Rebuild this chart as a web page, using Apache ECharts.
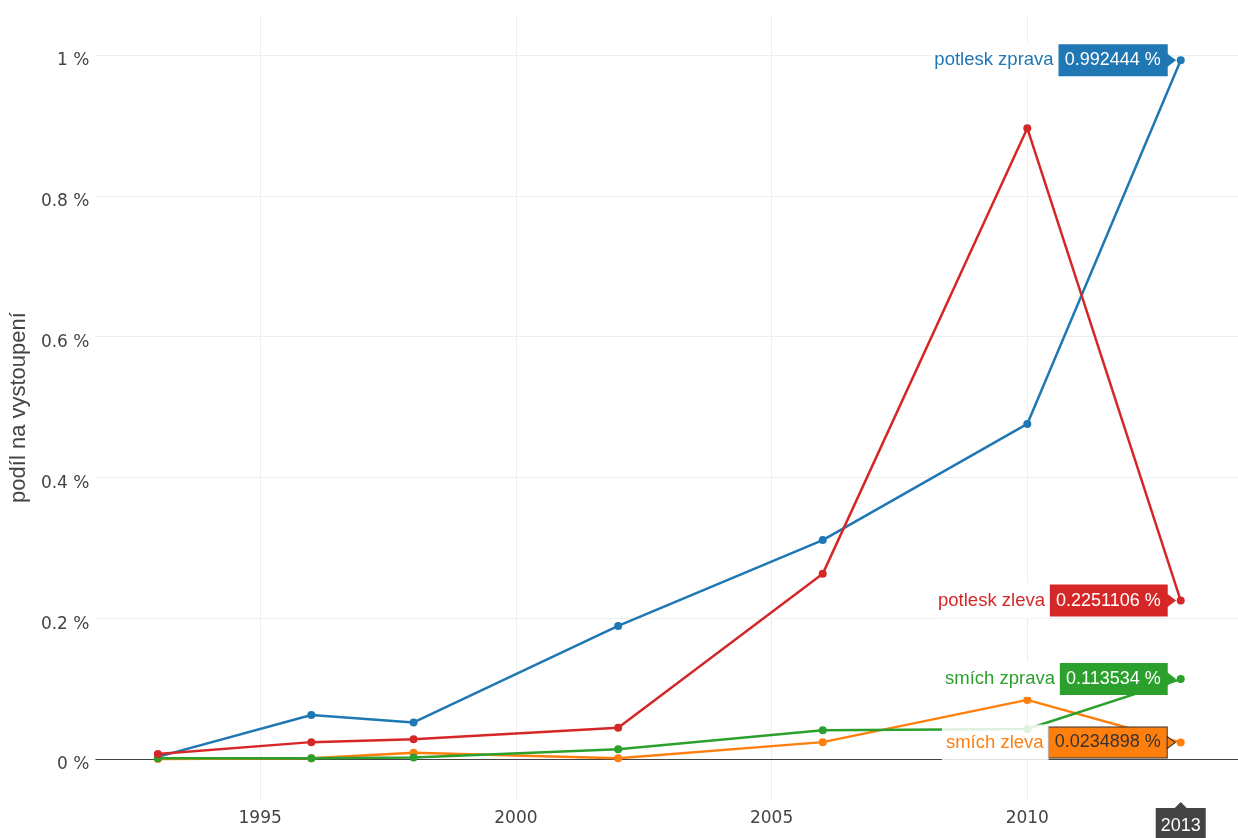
<!DOCTYPE html>
<html><head><meta charset="utf-8">
<script src="https://cdn.jsdelivr.net/npm/echarts@6/dist/echarts.min.js"></script>
<style>html,body{margin:0;padding:0;background:#fff}#c{width:1238px;height:838px}</style>
</head><body><div id="c"></div>
<script>
// ---- data ----
const years = [1993, 1996, 1998, 2002, 2006, 2010, 2013];
const seriesNames = ['potlesk zprava', 'smích zleva', 'smích zprava', 'potlesk zleva'];
const potleskZprava = [0.003, 0.0625, 0.052, 0.189, 0.311, 0.476, 0.992444];
const smichZleva   = [0.0, 0.001, 0.009, 0.001, 0.024, 0.084, 0.0234898];
const smichZprava  = [0.001, 0.001, 0.002, 0.0138, 0.0408, 0.0426, 0.113534];
const potleskZleva = [0.007, 0.024, 0.028, 0.0445, 0.263, 0.896, 0.2251106];
const valueLabels = ['0.992444 %', '0.0234898 %', '0.113534 %', '0.2251106 %'];
const hoverYear = 2013;
const yAxisTitle = 'podíl na vystoupení';

// ---- styles ----
const colors = ['#1f77b4', '#ff7f0e', '#2ca02c', '#d62728'];
const boxText = ['#fff', '#333', '#fff', '#fff'];
const boxBorder = [null, '#333', null, null];
const seriesValues = [potleskZprava, smichZleva, smichZprava, potleskZleva];
const X_MIN = 1991.78, X_MAX = 2014.12, Y_MIN = -0.0582, Y_MAX = 1.0568;
const tickFont = 'DejaVu Sans';
const hoverFont = 'Liberation Sans, Arial, sans-serif';

const series = seriesValues.map((vals, si) => {
  const data = years.map((y, i) => {
    const item = { value: [y, vals[i]] };
    if (y === hoverYear) {
      item.label = {
        show: true,
        position: 'left',
        distance: 10,
        formatter: '{n|' + seriesNames[si] + '}{v|' + valueLabels[si] + '}',
        rich: {
          n: {
            color: colors[si], fontSize: 18.5, fontFamily: hoverFont,
            backgroundColor: 'rgba(255,255,255,0.85)',
            height: 36, lineHeight: 36, padding: [0, 5, 0, 4]
          },
          v: {
            color: boxText[si], fontSize: 18, fontFamily: hoverFont,
            backgroundColor: colors[si],
            borderColor: boxBorder[si] || colors[si], borderWidth: 1,
            height: 30, lineHeight: 30, padding: [0, 6, 0, 6]
          }
        }
      };
    }
    return item;
  });
  const lastVal = vals[years.indexOf(hoverYear)];
  const mpData = [{
    coord: [hoverYear, lastVal],
    symbol: 'path://M0,0 L8,6 L0,12 Z',
    symbolSize: [8, 12],
    symbolOffset: [-9.5, 0],
    itemStyle: { color: colors[si], borderColor: boxBorder[si] || colors[si], borderWidth: 1 },
    label: { show: false }
  }];
  if (si === 0) {
    mpData.push({
      coord: [hoverYear, Y_MIN],
      symbol: 'path://M25,0 L31,6 L50,6 L50,40 L0,40 L0,6 L19,6 Z',
      symbolSize: [50, 40],
      symbolOffset: [0, 22],
      itemStyle: { color: '#444' },
      label: { show: true, position: 'inside', offset: [0, 4], formatter: String(hoverYear),
               color: '#fff', fontSize: 18, fontFamily: hoverFont }
    });
  }
  const s = {
    name: seriesNames[si],
    type: 'line',
    data: data,
    symbol: 'circle',
    symbolSize: 8,
    showSymbol: true,
    lineStyle: { width: 2.5, color: colors[si] },
    itemStyle: { color: colors[si] },
    emphasis: { disabled: true },
    markPoint: { silent: true, animation: false, data: mpData }
  };
  if (si === 0) {
    s.markLine = {
      silent: true, animation: false, symbol: 'none', z: 1,
      label: { show: false },
      lineStyle: { color: '#444', width: 1, type: 'solid' },
      data: [{ yAxis: 0 }]
    };
  }
  return s;
});

const chart = echarts.init(document.getElementById('c'));
chart.setOption({
  animation: false,
  backgroundColor: '#fff',
  grid: { left: 93, right: 0, top: 15, bottom: 38, containLabel: false },
  xAxis: {
    type: 'value', min: X_MIN, max: X_MAX,
    axisLine: { show: false }, axisTick: { show: false },
    axisLabel: { showMinLabel: false, showMaxLabel: false, color: '#444', fontSize: 17,
                 fontFamily: tickFont, margin: 10, formatter: v => String(Math.round(v)) },
    splitLine: { show: true, lineStyle: { color: ['rgba(0,0,0,0)', '#eee', '#eee', '#eee', '#eee', 'rgba(0,0,0,0)'], width: 1 } }
  },
  yAxis: {
    type: 'value', min: Y_MIN, max: Y_MAX,
    name: yAxisTitle, nameLocation: 'middle', nameGap: 60, nameRotate: 90,
    nameTextStyle: { color: '#444', fontSize: 22, fontFamily: 'Liberation Sans, Arial, sans-serif' },
    axisLine: { show: false }, axisTick: { show: false },
    axisLabel: { showMinLabel: false, showMaxLabel: false, margin: 6,
                 formatter: v => '{a|' + (+v.toFixed(1)) + ' %}',
                 rich: { a: { color: '#444', fontSize: 17, fontFamily: tickFont, padding: [12, 0, 0, 0] } } },
    splitLine: { show: true, lineStyle: { color: ['rgba(0,0,0,0)', '#eee', '#eee', '#eee', '#eee', '#eee', '#eee', 'rgba(0,0,0,0)'], width: 1 } }
  },
  series: series
});
</script>
</body></html>
